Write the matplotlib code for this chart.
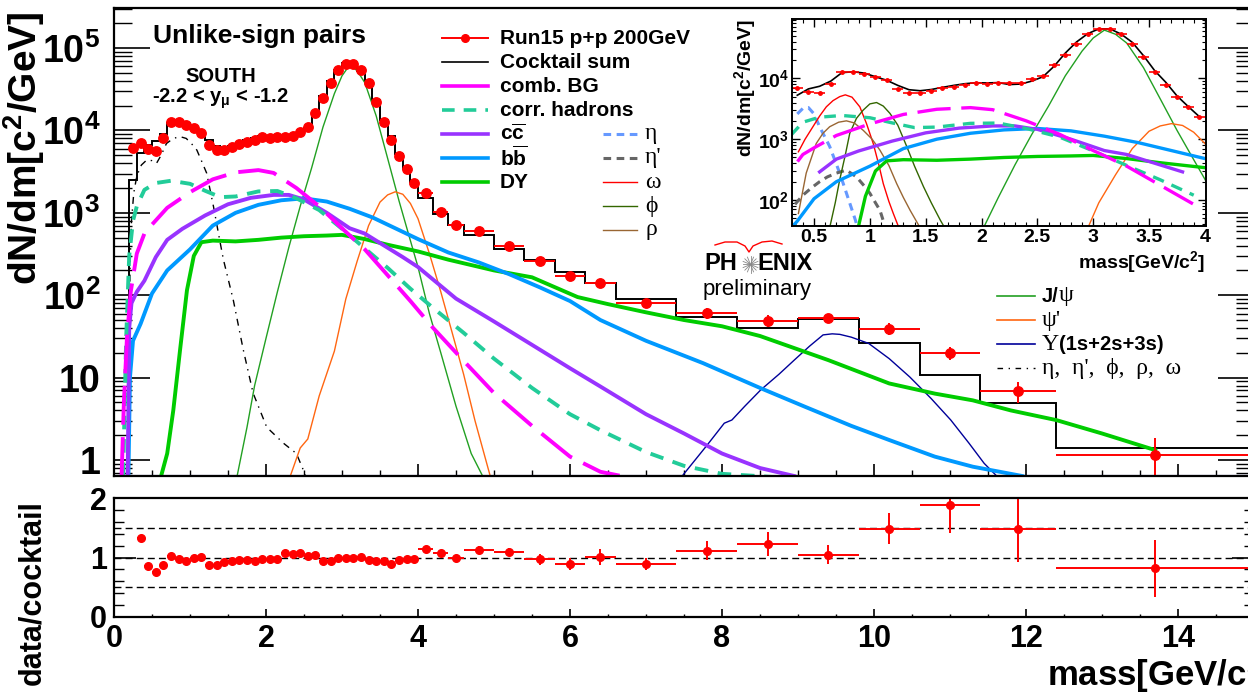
import numpy as np
import matplotlib
matplotlib.use("Agg")
import matplotlib.pyplot as plt
from matplotlib.lines import Line2D
from matplotlib.ticker import FixedLocator, NullFormatter, MultipleLocator, LogLocator, FixedFormatter

# ---------------- data ----------------
low_edges = [0.2, 0.3, 0.4, 0.5, 0.6, 0.7, 0.8, 0.9, 1.0, 1.1, 1.2, 1.3, 1.4, 1.5, 1.6, 1.7, 1.8, 1.9,
             2.0, 2.1, 2.2, 2.3, 2.4, 2.5, 2.6, 2.7, 2.8, 2.9, 3.0, 3.1, 3.2, 3.3, 3.4, 3.5, 3.6, 3.7,
             3.8, 3.9, 4.0]
wide_edges = [4.2, 4.4, 4.6, 5.0, 5.4, 5.8, 6.2, 6.6, 7.4, 8.2, 9.0, 9.8, 10.6, 11.4, 12.4, 15.0]

data_low = [6050, 6950, 5900, 5640, 8000, 12700, 12500, 11600, 10600, 9300, 6650, 5730, 5730, 6240,
            6840, 7300, 7650, 8230, 8140, 8230, 8400, 8520, 9660, 10900, 16400, 24600, 37300, 53800,
            64800, 64800, 53800, 37300, 22300, 12700, 7650, 4900, 3370, 2280]
data_wide = [1760, 1010, 720, 600, 400, 260, 170, 140, 81, 61, 49, 52.5, 39, 20, 6.9, 1.15]
data_wide_err = [40, 35, 30, 28, 20, 15, 12, 12, 6, 9, 8, 7, 6.5, 3.6, 2.0, 0.7]

cocktail_low = [2500, 5270, 6700, 7400, 9000, 12400, 12800, 12200, 10600, 9300, 7650, 6500, 6250, 6550,
                7100, 7650, 8150, 8450, 8400, 8500, 7900, 8050, 9000, 10600, 15800, 26000, 39500, 54000,
                65000, 65000, 53300, 39000, 23600, 13400, 8600, 5150, 3450, 2350]
cocktail_wide = [1520, 955, 720, 535, 365, 268, 193, 139, 90, 55, 40, 51, 26, 10.8, 4.9, 1.39]

ratio_low = [1.33, 0.85, 0.76, 0.87, 1.025, 0.97, 0.94, 1.00, 1.01, 0.87, 0.87, 0.92, 0.945, 0.955,
             0.955, 0.94, 0.975, 0.97, 0.97, 1.07, 1.06, 1.07, 1.03, 1.04, 0.94, 0.945, 1.00, 0.995,
             0.995, 1.01, 0.955, 0.945, 0.945, 0.89, 0.955, 0.98, 0.97]
ratio_wide = [1.15, 1.07, 1.00, 1.13, 1.09, 0.97, 0.89, 1.01, 0.885, 1.11, 1.23, 1.05, 1.48, 1.88, 1.48, 0.82]
ratio_wide_err = [0.04, 0.05, 0.05, 0.06, 0.07, 0.09, 0.10, 0.14, 0.10, 0.16, 0.20, 0.16, 0.26, 0.46, 0.55, 0.48]

comb_m = [0.10, 0.13, 0.17, 0.22, 0.30, 0.40, 0.50, 0.70, 1.0, 1.3, 1.6, 1.9, 2.1, 2.4, 2.7, 3.0, 3.3,
          3.6, 3.9, 4.2, 4.6, 5.0, 5.5, 6.0, 6.4, 6.75]
comb_v = [0.64, 5, 30, 110, 320, 560, 720, 1150, 1780, 2550, 3100, 3300, 3050, 2000, 1200, 650, 360,
          175, 85, 40, 16, 6.5, 2.6, 1.1, 0.72, 0.62]

corr_m = [0.12, 0.16, 0.20, 0.25, 0.30, 0.40, 0.55, 0.75, 1.0, 1.2, 1.4, 1.6, 1.9, 2.15, 2.4, 2.7, 3.0,
          3.3, 3.6, 3.9, 4.2, 4.6, 5.0, 5.5, 6.0, 6.4, 7.0, 7.5, 8.0, 8.7]
corr_v = [0.64, 30, 300, 800, 1200, 1900, 2300, 2450, 2250, 1850, 1550, 1580, 1820, 1840, 1500, 1080,
          640, 370, 215, 120, 70, 35, 17, 7.5, 3.6, 2.3, 1.25, 0.85, 0.68, 0.62]

ccbar_m = [0.18, 0.20, 0.23, 0.30, 0.40, 0.55, 0.70, 0.90, 1.2, 1.5, 1.8, 2.1, 2.3, 2.5, 2.8, 3.1, 3.3,
           3.5, 3.8, 4.0, 4.5, 5.0, 5.5, 6.0, 6.4, 7.0, 7.5, 8.0, 8.5, 8.95]
ccbar_v = [0.64, 40, 80, 110, 150, 290, 470, 640, 930, 1270, 1520, 1650, 1650, 1450, 1000, 650, 560,
           430, 290, 220, 91, 48, 25, 13, 7.8, 3.6, 2.1, 1.2, 0.8, 0.64]

bbbar_m = [0.19, 0.21, 0.25, 0.35, 0.50, 0.70, 1.0, 1.3, 1.6, 1.9, 2.2, 2.5, 2.8, 3.1, 3.4, 3.7, 4.0,
           4.4, 4.8, 5.2, 5.6, 6.0, 6.4, 7.0, 7.75, 8.5, 9.1, 9.7, 10.2, 10.8, 11.3, 11.95]
bbbar_v = [0.64, 10, 28, 45, 105, 200, 360, 700, 1000, 1250, 1420, 1500, 1370, 1120, 880, 650, 480,
           330, 250, 180, 125, 85, 50, 28, 15, 7.5, 4.4, 2.6, 1.75, 1.1, 0.83, 0.64]

dy_m = [0.62, 0.70, 0.78, 0.87, 0.96, 1.05, 1.15, 1.3, 1.6, 1.9, 2.2, 2.5, 2.8, 3.0, 3.3, 3.6, 4.0,
        4.4, 5.0, 5.5, 6.1, 6.5, 7.0, 7.5, 8.0, 8.5, 9.0, 9.4, 10.2, 10.8, 11.3, 11.8, 12.4, 13.0, 13.7]
dy_v = [0.64, 1.2, 4, 22, 115, 300, 440, 460, 450, 470, 500, 520, 530, 540, 480, 410, 340, 270, 200,
        165, 95, 78, 62, 50, 42, 32, 22, 16.3, 8.5, 6.4, 5.3, 4.0, 3.05, 2.1, 1.32]

jpsi_m = [1.62, 1.75, 1.85, 2.0, 2.15, 2.3, 2.45, 2.6, 2.75, 2.9, 3.0, 3.1, 3.2, 3.3, 3.45, 3.6, 3.75,
          3.9, 4.0, 4.15, 4.3, 4.5, 4.7, 4.85]
jpsi_v = [0.64, 2.5, 8, 30, 110, 380, 1200, 3500, 11000, 28000, 46000, 62000, 53000, 38000, 15000,
          4600, 1400, 460, 220, 60, 20, 4.5, 1.2, 0.64]

psi2_m = [2.32, 2.45, 2.55, 2.7, 2.9, 3.05, 3.2, 3.35, 3.5, 3.6, 3.7, 3.8, 3.9, 4.0, 4.15, 4.3, 4.45,
          4.6, 4.75, 4.95]
psi2_v = [0.64, 1.4, 1.8, 6, 21, 90, 260, 700, 1350, 1650, 1800, 1680, 1300, 850, 320, 110, 35, 11, 3, 0.64]

ups_m = [0.0, 7.48, 7.8, 8.03, 8.13, 8.3, 8.51, 8.75, 8.95, 9.15, 9.33, 9.45, 9.55, 9.7, 9.93, 10.2,
         10.47, 10.75, 11.01, 11.25, 11.45, 11.61, 15.0]
ups_v = [0.0, 0.64, 1.5, 2.8, 3.06, 4.5, 7.1, 11, 16.3, 24, 33, 34, 33.5, 31, 26, 17, 10.2, 5.6, 3.06,
         1.6, 0.91, 0.64, 0.0]

lmr_m = [0.19, 0.21, 0.23, 0.26, 0.30, 0.36, 0.43, 0.50, 0.56, 0.62, 0.69, 0.78, 0.87, 0.95, 1.02,
         1.09, 1.15, 1.22, 1.31, 1.39, 1.44, 1.57, 1.70, 1.83, 2.01, 2.23, 2.40, 2.49, 2.53]
lmr_v = [0.64, 200, 800, 1740, 2800, 3800, 4370, 4300, 4000, 5000, 6940, 8000, 8400, 8000, 6900, 5780,
         4300, 3020, 1180, 470, 270, 87, 22, 6.5, 2.5, 1.6, 1.2, 0.76, 0.6]

eta_m = [0.35, 0.40, 0.45, 0.50, 0.55, 0.64, 0.73, 0.79, 0.87, 0.90]
eta_v = [2600, 3200, 3300, 2600, 1600, 760, 277, 130, 47, 30]
etap_m = [0.33, 0.40, 0.48, 0.55, 0.62, 0.70, 0.79, 0.88, 0.95, 1.00, 1.05, 1.09, 1.13]
etap_v = [85, 120, 160, 200, 240, 277, 310, 240, 170, 129, 90, 68, 40]
omega_m = [0.36, 0.42, 0.49, 0.55, 0.61, 0.67, 0.73, 0.78, 0.84, 0.91, 0.97, 1.03, 1.08, 1.12, 1.17, 1.21, 1.26]
omega_v = [620, 1000, 1600, 2400, 3400, 4300, 5000, 5350, 4900, 3400, 1800, 850, 380, 186, 95, 60, 35]
phi_m = [0.64, 0.69, 0.73, 0.78, 0.82, 0.88, 0.94, 1.00, 1.06, 1.12, 1.18, 1.25, 1.33, 1.40, 1.48, 1.55, 1.63, 1.67]
phi_v = [35, 90, 215, 550, 1250, 2200, 3000, 3800, 4000, 3500, 2650, 1700, 760, 360, 166, 90, 47, 35]
rho_m = [0.36, 0.43, 0.52, 0.58, 0.64, 0.72, 0.79, 0.86, 0.94, 1.02, 1.09, 1.17, 1.24, 1.30, 1.36, 1.45]
rho_v = [60, 277, 850, 1250, 1600, 1900, 2000, 1850, 1400, 1000, 660, 370, 186, 110, 68, 35]

main_ytick_vals = [1, 10, 100, 1000, 10000, 100000]
main_ytick_labels = ['1', '10', r'$\mathbf{10^{2}}$', r'$\mathbf{10^{3}}$', r'$\mathbf{10^{4}}$', r'$\mathbf{10^{5}}$']
inset_ytick_vals = [100, 1000, 10000]
inset_ytick_labels = [r'$\mathbf{10^{2}}$', r'$\mathbf{10^{3}}$', r'$\mathbf{10^{4}}$']
inset_xtick_vals = [0.5, 1.0, 1.5, 2.0, 2.5, 3.0, 3.5, 4.0]
inset_xtick_labels = ['0.5', '1', '1.5', '2', '2.5', '3', '3.5', '4']

# ---------------- colours ----------------
C_COMB = '#ff00ff'
C_CORR = '#22cc99'
C_CC = '#9933ff'
C_BB = '#0099ff'
C_DY = '#00cc00'
C_JPSI = '#22a022'
C_PSI2 = '#ff6611'
C_UPS = '#000099'
C_ETA = '#6699ff'
C_ETAP = '#666666'
C_OMEGA = '#ff0000'
C_PHI = '#336600'
C_RHO = '#996633'

# ---------------- style ----------------
plt.rcParams['font.family'] = ['Liberation Sans', 'DejaVu Sans']
plt.rcParams['font.weight'] = 'bold'
plt.rcParams['mathtext.fontset'] = 'custom'
plt.rcParams['mathtext.rm'] = 'Liberation Sans'
plt.rcParams['mathtext.bf'] = 'Liberation Sans:bold'
plt.rcParams['mathtext.it'] = 'Liberation Sans:italic'
plt.rcParams['mathtext.sf'] = 'Liberation Sans'
SERIF = ['Liberation Serif', 'DejaVu Serif']

W, H = 1248, 693
fig = plt.figure(figsize=(W / 100, H / 100), dpi=100)


def FX(px):
    return px / W


def FY(py):
    return 1 - py / H


def fig_line(xs, ys, **kw):
    fig.add_artist(Line2D([FX(x) for x in xs], [FY(y) for y in ys], **kw))


edges = np.array(low_edges + wide_edges)
centers = 0.5 * (edges[:-1] + edges[1:])
halfw = 0.5 * np.diff(edges)
nlow = len(data_low)

# ---------------- main panel ----------------
ax = fig.add_axes([FX(114), FY(476), 1140 / W, (476 - 8) / H])
ax.set_yscale('log')
ax.set_xlim(0, 15)
YLO, YHI = 0.64, 3.06e5
ax.set_ylim(YLO, YHI)

ax.plot(ups_m, np.clip(ups_v, YLO * 1.01, None), color=C_UPS, lw=1.0)
ax.plot(lmr_m, lmr_v, color='black', lw=1.0, dashes=(5, 4, 1, 4))
ax.plot(jpsi_m, jpsi_v, color=C_JPSI, lw=1.0)
ax.plot(psi2_m, psi2_v, color=C_PSI2, lw=1.0)
ax.plot(dy_m, dy_v, color=C_DY, lw=2.8)
ax.plot(bbbar_m, bbbar_v, color=C_BB, lw=2.8)
ax.plot(ccbar_m, ccbar_v, color=C_CC, lw=2.8)
ax.plot(corr_m, corr_v, color=C_CORR, lw=2.8, dashes=(3.5, 2.5))
ax.plot(comb_m, comb_v, color=C_COMB, lw=2.8, dashes=(10, 3.2))

ax.stairs([0.01] + cocktail_low + cocktail_wide, np.concatenate([[0.0], edges]),
          color='black', lw=1.4, baseline=None)

ax.errorbar(centers[:nlow], data_low, xerr=halfw[:nlow], fmt='o', color='red', ms=6.8,
            elinewidth=1.4, capsize=0)
ax.errorbar(centers[nlow:], data_wide, xerr=halfw[nlow:], yerr=data_wide_err, fmt='o', color='red',
            ms=6.8, elinewidth=1.4, capsize=0)

ax.yaxis.set_major_locator(FixedLocator(main_ytick_vals))
ax.yaxis.set_major_formatter(FixedFormatter(main_ytick_labels))
ax.yaxis.set_minor_locator(LogLocator(base=10, subs=[2, 3, 4, 5, 6, 7, 8, 9], numticks=20))
ax.yaxis.set_minor_formatter(NullFormatter())
ax.xaxis.set_major_locator(MultipleLocator(2))
ax.xaxis.set_minor_locator(MultipleLocator(0.5))
ax.tick_params(axis='y', which='major', direction='in', length=26, width=1.2, right=True,
               labelsize=27, pad=10)
ax.tick_params(axis='y', which='minor', direction='in', length=13, width=1.0, right=True)
ax.tick_params(axis='x', which='major', direction='in', length=9, width=1.2, labelbottom=False)
ax.tick_params(axis='x', which='minor', direction='in', length=4.5, width=1.0)
for s in ax.spines.values():
    s.set_linewidth(1.6)

# ---------------- ratio panel ----------------
axr = fig.add_axes([FX(114), FY(617), 1140 / W, 119 / H])
axr.set_xlim(0, 15)
axr.set_ylim(0, 2)
for yy in (0.5, 1.0, 1.5):
    axr.axhline(yy, color='black', lw=1.0, dashes=(5, 3))
axr.errorbar(centers[1:nlow], ratio_low, xerr=halfw[1:nlow], fmt='o', color='red', ms=5.5,
             elinewidth=1.4, capsize=0)
axr.errorbar(centers[nlow:], ratio_wide, xerr=halfw[nlow:], yerr=ratio_wide_err, fmt='o', color='red',
             ms=5.5, elinewidth=1.4, capsize=0)
axr.yaxis.set_major_locator(FixedLocator([0, 1, 2]))
axr.yaxis.set_minor_locator(MultipleLocator(0.2))
axr.xaxis.set_major_locator(MultipleLocator(2))
axr.xaxis.set_minor_locator(MultipleLocator(0.5))
axr.tick_params(axis='y', which='major', direction='in', length=16, width=1.2, right=True,
                labelsize=22, pad=5)
axr.tick_params(axis='y', which='minor', direction='in', length=7, width=1.0, right=True)
axr.tick_params(axis='x', which='major', direction='in', length=6, width=1.2, labelsize=22, pad=5)
axr.tick_params(axis='x', which='minor', direction='in', length=2.5, width=1.0)
for s in axr.spines.values():
    s.set_linewidth(1.6)

# ---------------- inset ----------------
axi = fig.add_axes([FX(791.7), FY(226), (1206 - 791.7) / W, (226 - 19) / H])
axi.set_yscale('log')
axi.set_xlim(0.3, 4.01)
ILO = 37.4
axi.set_ylim(ILO, 9.44e4)

cm = np.array(comb_m); cv = np.array(comb_v)
km = np.array(corr_m); kv = np.array(corr_v)
qm = np.array(ccbar_m); qv = np.array(ccbar_v)
axi.plot(ups_m, np.clip(ups_v, ILO * 1.01, None), color=C_UPS, lw=1.0)
axi.plot(eta_m, eta_v, color=C_ETA, lw=2.2, dashes=(2.5, 1.8))
axi.plot(etap_m, etap_v, color=C_ETAP, lw=2.2, dashes=(2.5, 1.8))
axi.plot(omega_m, omega_v, color=C_OMEGA, lw=1.0)
axi.plot(phi_m, phi_v, color=C_PHI, lw=1.0)
axi.plot(rho_m, rho_v, color=C_RHO, lw=1.0)
axi.plot(jpsi_m, jpsi_v, color=C_JPSI, lw=1.0)
axi.plot(psi2_m, psi2_v, color=C_PSI2, lw=1.0)
axi.plot(dy_m, dy_v, color=C_DY, lw=2.4)
axi.plot(bbbar_m, bbbar_v, color=C_BB, lw=2.4)
sel = (qm >= 0.55) & (qm <= 3.85)
axi.plot(qm[sel], qv[sel], color=C_CC, lw=2.4)
sel = km <= 3.95
axi.plot(km[sel], kv[sel], color=C_CORR, lw=2.4, dashes=(3.5, 2.5))
sel = cm <= 3.9
axi.plot(cm[sel], cv[sel], color=C_COMB, lw=2.4, dashes=(10, 3.2))
axi.plot(centers[1:nlow], cocktail_low[1:], color='black', lw=1.2)
axi.errorbar(centers[1:nlow], data_low[1:], xerr=halfw[1:nlow], fmt='o', color='red', ms=2.5,
             elinewidth=1.2, capsize=0)

axi.yaxis.set_major_locator(FixedLocator(inset_ytick_vals))
axi.yaxis.set_major_formatter(FixedFormatter(inset_ytick_labels))
axi.yaxis.set_minor_locator(LogLocator(base=10, subs=[2, 3, 4, 5, 6, 7, 8, 9], numticks=20))
axi.yaxis.set_minor_formatter(NullFormatter())
axi.xaxis.set_major_locator(FixedLocator(inset_xtick_vals))
axi.xaxis.set_major_formatter(FixedFormatter(inset_xtick_labels))
axi.xaxis.set_minor_locator(MultipleLocator(0.1))
axi.tick_params(which='major', direction='in', length=6, width=1.0, top=True, right=True,
                labelsize=14, pad=2)
axi.tick_params(which='minor', direction='in', length=3, width=0.8, top=True, right=True)
for s in axi.spines.values():
    s.set_linewidth(1.4)

# ---------------- labels ----------------
fig.text(FX(24), FY(148), r'$\mathbf{dN/dm[c^{2}/GeV]}$', rotation=90, fontsize=28,
         ha='center', va='center')
fig.text(FX(32), FY(593), 'data/cocktail', rotation=90, fontsize=22, ha='center', va='center')
fig.text(FX(1272), FY(686), r'$\mathbf{mass[GeV/c^{2}]}$', ha='right', va='baseline', fontsize=25)
fig.text(FX(745), FY(88), r'$\mathbf{dN/dm[c^{2}/GeV]}$', rotation=90, fontsize=14,
         ha='center', va='center')
fig.text(FX(1205), FY(262), r'$\mathbf{mass[GeV/c^{2}]}$', ha='right', va='center', fontsize=14)

fig.text(FX(153), FY(36), 'Unlike-sign pairs', fontsize=19, va='center', ha='left')
fig.text(FX(221), FY(77), 'SOUTH', fontsize=14.5, va='center', ha='center')
fig.text(FX(221), FY(99), r'-2.2 < y$_{\mathbf{\mu}}$ < -1.2', fontsize=14.5, va='center', ha='center')

# ---------------- legend (top) ----------------
rows = [38, 62, 86, 110, 134, 158, 182]
fig_line([442, 488], [rows[0]] * 2, color='red', lw=1.4)
fig_line([465], [rows[0]], color='red', marker='o', ms=5.5, lw=0)
fig_line([442, 488], [rows[1]] * 2, color='black', lw=1.2)
fig_line([442, 488], [rows[2]] * 2, color=C_COMB, lw=2.6)
fig_line([442, 488], [rows[3]] * 2, color=C_CORR, lw=2.6, dashes=(3.5, 2.5))
fig_line([442, 488], [rows[4]] * 2, color=C_CC, lw=2.6)
fig_line([442, 488], [rows[5]] * 2, color=C_BB, lw=2.6)
fig_line([442, 488], [rows[6]] * 2, color=C_DY, lw=2.6)
labels_top = ['Run15 p+p 200GeV', 'Cocktail sum', 'comb. BG', 'corr. hadrons',
              r'$\mathbf{c}\overline{\mathbf{c}}$', r'$\mathbf{b}\overline{\mathbf{b}}$', 'DY']
for r, t in zip(rows, labels_top):
    fig.text(FX(500), FY(r), t, fontsize=15, va='center', ha='left')

rows2 = [134, 158, 182, 206, 230]
fig_line([603, 637], [rows2[0]] * 2, color=C_ETA, lw=2.2, dashes=(2.5, 1.8))
fig_line([603, 637], [rows2[1]] * 2, color=C_ETAP, lw=2.2, dashes=(2.5, 1.8))
fig_line([603, 637], [rows2[2]] * 2, color=C_OMEGA, lw=1.0)
fig_line([603, 637], [rows2[3]] * 2, color=C_PHI, lw=1.0)
fig_line([603, 637], [rows2[4]] * 2, color=C_RHO, lw=1.0)
for r, t in zip(rows2, ['η', "η'", 'ω', 'ϕ', 'ρ']):
    fig.text(FX(645), FY(r), t, fontsize=17, va='center', ha='left', family=SERIF, fontweight='normal')

# ---------------- legend (lower right) ----------------
rows3 = [296, 320, 344, 368]
fig_line([997, 1035], [rows3[0]] * 2, color=C_JPSI, lw=1.2)
fig_line([997, 1035], [rows3[1]] * 2, color=C_PSI2, lw=1.2)
fig_line([997, 1035], [rows3[2]] * 2, color=C_UPS, lw=1.2)
fig_line([997, 1035], [rows3[3]] * 2, color='black', lw=1.0, dashes=(4, 4, 1, 4))
t1 = fig.text(FX(1042), FY(rows3[0]), 'J/', fontsize=14.5, va='center', ha='left')
ax.annotate('ψ', xy=(1, 0.5), xycoords=t1, va='center', ha='left', fontsize=17, family=SERIF,
            fontweight='normal', annotation_clip=False)
fig.text(FX(1042), FY(rows3[1]), "ψ'", fontsize=17, va='center', ha='left', family=SERIF,
         fontweight='normal')
t3 = fig.text(FX(1042), FY(rows3[2]), 'Υ', fontsize=17, va='center', ha='left', family=SERIF,
              fontweight='normal')
ax.annotate('(1s+2s+3s)', xy=(1, 0.5), xycoords=t3, va='center', ha='left', fontsize=14.5,
            annotation_clip=False)
fig.text(FX(1042), FY(rows3[3]), "η,  η',  ϕ,  ρ,  ω", fontsize=17, va='center', ha='left',
         family=SERIF, fontweight='normal')

# ---------------- PHENIX logo ----------------
fig.text(FX(704), FY(264), 'PH', fontsize=17, va='center', ha='left')
fig.text(FX(757), FY(264), 'ENIX', fontsize=17, va='center', ha='left')
cx, cy = 750.5, 264.5
for ang in np.linspace(0, 2 * np.pi, 16, endpoint=False):
    fig_line([cx, cx + 8 * np.cos(ang)], [cy, cy + 8 * np.sin(ang)], color='#888888', lw=0.6)
fig_line([715, 725, 737, 745, 749, 753, 762, 772, 782],
         [245, 242, 242, 246, 252, 246, 242, 241, 244], color='red', lw=1.0)
fig.text(FX(757), FY(289), 'preliminary', fontsize=16, va='center', ha='center', fontweight='normal')

fig.savefig('out.png', dpi=100)
